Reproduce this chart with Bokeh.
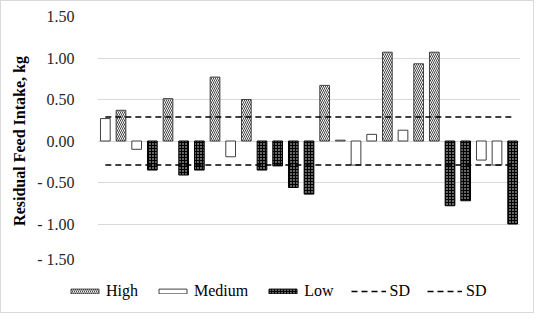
import base64
from bokeh.plotting import figure
from bokeh.layouts import column
from bokeh.models import (ColumnDataSource, FactorRange, FixedTicker, Legend, LegendItem,
                          ImageURLTexture)
from bokeh.embed import file_html
from bokeh.resources import INLINE

# ---- data ----
cats = [str(i) for i in range(1, 28)]
groups = ["Medium", "High", "Medium", "Low", "High", "Low", "Low", "High", "Medium",
          "High", "Low", "Low", "Low", "Low", "High", "Medium", "Medium", "Medium",
          "High", "Medium", "High", "High", "Low", "Low", "Medium", "Medium", "Low"]
values = [0.27, 0.37, -0.10, -0.35, 0.51, -0.41, -0.35, 0.77, -0.19,
          0.50, -0.35, -0.30, -0.56, -0.64, 0.67, 0.01, -0.29, 0.08,
          1.07, 0.13, 0.93, 1.07, -0.78, -0.72, -0.23, -0.29, -1.00]
sd_upper = 0.29
sd_lower = -0.29
y_ticks = [-1.5, -1.0, -0.5, 0.0, 0.5, 1.0, 1.5]
y_tick_labels = ["- 1.50", "- 1.00", "- 0.50", "0.00", "0.50", "1.00", "1.50"]
legend_labels = ["High", "Medium", "Low", "SD", "SD"]

FONT = "Liberation Serif"
FS = "16px"

# sparse tiny dots texture for the "Medium" bars
_svg = ("<svg xmlns='http://www.w3.org/2000/svg' width='9' height='11'>"
        "<rect width='9' height='11' fill='white'/>"
        "<rect x='4' y='5' width='1.6' height='1.6' fill='black'/></svg>")
med_tex = ImageURLTexture(url="data:image/svg+xml;base64," +
                          base64.b64encode(_svg.encode()).decode(), repetition="repeat")

high_style = dict(fill_color="white", line_color="#404040", line_width=1,
                  hatch_pattern="left_diagonal_line", hatch_color="#404040",
                  hatch_scale=4, hatch_weight=1)
med_style = dict(fill_color="white", line_color="#404040", line_width=1,
                 hatch_pattern="meddots", hatch_extra={"meddots": med_tex})
low_style = dict(fill_color="#000000", line_color="#000000", line_width=1,
                 hatch_pattern="dot", hatch_color="#ffffff",
                 hatch_scale=3, hatch_weight=0.6)
sd_style = dict(line_color="black", line_width=1.5, line_dash="6 4")

def src(g):
    xs = [c for c, gg in zip(cats, groups) if gg == g]
    ys = [v for v, gg in zip(values, groups) if gg == g]
    return ColumnDataSource(dict(x=xs, top=ys))

s_high, s_med, s_low = src("High"), src("Medium"), src("Low")
s_sd1 = ColumnDataSource(dict(x=cats, y=[sd_upper] * len(cats)))
s_sd2 = ColumnDataSource(dict(x=cats, y=[sd_lower] * len(cats)))

def draw(fig):
    return [fig.vbar(x="x", top="top", bottom=0, width=0.62, source=s_high, **high_style),
            fig.vbar(x="x", top="top", bottom=0, width=0.62, source=s_med, **med_style),
            fig.vbar(x="x", top="top", bottom=0, width=0.62, source=s_low, **low_style),
            fig.line(x="x", y="y", source=s_sd1, **sd_style),
            fig.line(x="x", y="y", source=s_sd2, **sd_style)]

p = figure(width=532, height=266, output_backend="svg", toolbar_location=None,
           x_range=FactorRange(factors=cats, range_padding=0),
           y_range=(-1.5, 1.5),
           min_border_left=96, min_border_right=13, min_border_top=15, min_border_bottom=2)
p.frame_align = False
p.outline_line_color = None
p.xaxis.visible = False
p.xgrid.visible = False
p.ygrid.ticker = FixedTicker(ticks=y_ticks)
p.ygrid.grid_line_color = "#d9d9d9"
p.ygrid.grid_line_width = 1

ax = p.yaxis[0]
ax.ticker = FixedTicker(ticks=y_ticks)
ax.major_label_overrides = {t: l for t, l in zip(y_ticks, y_tick_labels)}
ax.axis_line_color = None
ax.major_tick_line_color = None
ax.minor_tick_line_color = None
ax.major_label_text_font = FONT
ax.major_label_text_font_size = FS
ax.major_label_text_color = "#262626"
ax.major_label_standoff = 17
ax.axis_label = "Residual Feed Intake, kg"
ax.axis_label_text_font = FONT
ax.axis_label_text_font_size = FS
ax.axis_label_text_font_style = "bold"
ax.axis_label_text_color = "#000000"
ax.axis_label_standoff = 6

draw(p)

# ---- legend strip below the chart (hidden copies of the series provide the glyphs) ----
lg = figure(width=532, height=45, output_backend="svg", toolbar_location=None,
            x_range=FactorRange(factors=cats), y_range=(-1.5, 1.5),
            x_axis_type=None, y_axis_type=None,
            min_border_left=0, min_border_right=0, min_border_top=0, min_border_bottom=0)
lg.frame_align = False
lg.outline_line_color = None
lg.xgrid.visible = False
lg.ygrid.visible = False
lg_renderers = draw(lg)
for r in lg_renderers:
    r.visible = False

legend = Legend(items=[LegendItem(label=l, renderers=[r]) for l, r in
                       zip(legend_labels, lg_renderers)],
                orientation="horizontal", location=(66, 11),
                spacing=17, label_standoff=4, padding=0, margin=0,
                glyph_width=35, glyph_height=6, label_height=20, label_width=10,
                label_text_font='"Liberation Serif"', label_text_font_size=FS,
                label_text_color="#000000", inactive_fill_alpha=0,
                border_line_color=None, background_fill_alpha=0)
lg.add_layout(legend, "center")

layout = column(p, lg, spacing=0)
layout.styles = {"border": "1px solid #d9d9d9"}

open("out.html", "w").write(file_html(layout, INLINE))
